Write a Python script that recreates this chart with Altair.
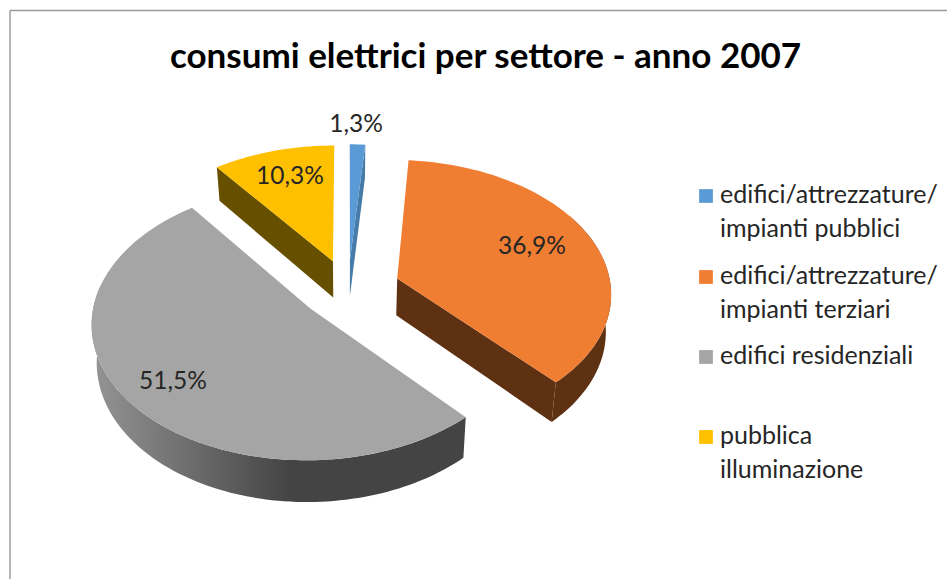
import math
import altair as alt

# Electricity consumption by sector, 2007 (percent)
sectors = ["edifici/attrezzature/\nimpianti pubblici", "edifici/attrezzature/\nimpianti terziari",
           "edifici residenziali", "pubblica\nilluminazione"]
shares = [1.3, 36.9, 51.5, 10.3]
top_colors = ["#5B9BD5", "#F07E32", "#A5A5A5", "#FFC000"]
wall_colors = ["#477BA8", "#5F3113", "#444444", "#665000"]
explode = [0.226, 0.245, 0.226, 0.226]   # how far each slice is pulled out

# Label anchor points for the percentages, in pixels
value_label_x = [356, 532, 173, 290]
value_label_y = [132, 254, 389, 184]

W, H = 947, 579
CX, CY = 348.0, 289.0        # pie centre on the page
RX, RY = 214.0, 132.5        # horizontal and vertical radius
PERSP = 0.10                 # perspective strength along the depth axis
DEPTH = 37.0                 # thickness of the pie
BASE_SHRINK = 0.98           # lower rim converges slightly


def project(x, y, lower=False):
    w = 1 + PERSP * y
    px = RX * x / w
    py = -RY * y / w
    if lower:
        return [CX + px * BASE_SHRINK, CY + py + DEPTH / w]
    return [CX + px, CY + py]


def slice_point(i, angle, r=1.0):
    b = bisects[i]
    return (r * math.sin(angle) + explode[i] * math.sin(b),
            r * math.cos(angle) + explode[i] * math.cos(b))


def feature(points, fill):
    ring = points + [points[0]]
    return {"type": "Feature", "properties": {"fill": fill},
            "geometry": {"type": "Polygon", "coordinates": [ring]}}


def arc_angles(a0, a1, step=math.radians(1.5)):
    n = max(2, int(abs(a1 - a0) / step) + 1)
    return [a0 + (a1 - a0) * i / n for i in range(n + 1)]


# Slice angles run clockwise from twelve o'clock
edges = [0.0]
for s in shares:
    edges.append(edges[-1] + s / 100 * 2 * math.pi)
spans = list(zip(edges[:-1], edges[1:]))
bisects = [(a + b) / 2 for a, b in spans]


def radial_wall(i, angle):
    tip, rim = slice_point(i, angle, 0.0), slice_point(i, angle)
    return feature([project(*tip), project(*rim), project(*rim, lower=True), project(*tip, lower=True)],
                   wall_colors[i])


def outer_wall(i, a0, a1, fill):
    pts = [slice_point(i, a) for a in arc_angles(a0, a1)]
    return feature([project(*p) for p in pts] + [project(*p, lower=True) for p in reversed(pts)], fill)


def top_face(i):
    a0, a1 = spans[i]
    pts = [project(*slice_point(i, a)) for a in arc_angles(a0, a1)]
    return feature([project(*slice_point(i, a0, 0.0))] + pts, top_colors[i])


# Walls visible from the viewpoint: the cut faces looking towards the viewer and the front rims
flat_walls = [
    radial_wall(3, spans[3][0]),
    radial_wall(0, spans[0][1]),
    radial_wall(1, spans[1][1]),
    outer_wall(1, math.radians(60), spans[1][1], wall_colors[1]),
]
gray_rim = [outer_wall(2, spans[2][0], math.radians(280), wall_colors[2])]
tops = [top_face(i) for i in range(4)]

projection = alt.Projection(type="identity", scale=1, translate=[0, 0])


def shapes(values, **mark):
    return alt.Chart(alt.Data(values=values)).mark_geoshape(strokeWidth=0, **mark).project(**projection.to_dict())


walls_layer = shapes(flat_walls).encode(fill=alt.Fill("properties.fill:N", scale=None))
rim_layer = shapes(gray_rim, fill=alt.Gradient(
    gradient="linear", x1=0, x2=1, y1=0, y2=0,
    stops=[alt.GradientStop(color="#959595", offset=0),
           alt.GradientStop(color="#444444", offset=0.53),
           alt.GradientStop(color="#444444", offset=1)]))
tops_layer = shapes(tops).encode(fill=alt.Fill("properties.fill:N", scale=None))

FONT = "Lato"
INK = "#262626"

value_rows = [{"x": x, "y": y, "t": f"{v:.1f}%".replace(".", ",")}
              for x, y, v in zip(value_label_x, value_label_y, shares)]
value_layer = alt.Chart(alt.Data(values=value_rows)).mark_text(
    font=FONT, fontSize=24.5, color=INK, align="center", baseline="alphabetic"
).encode(x=alt.X("x:Q", scale=None), y=alt.Y("y:Q", scale=None), text="t:N")

# Legend entries sit on an even vertical rhythm, with the swatch beside the first line
legend_y = [196, 277, 357, 437]
swatch_rows = [{"x": 706, "y": y, "c": c} for y, c in zip(legend_y, top_colors)]
swatch_layer = alt.Chart(alt.Data(values=swatch_rows)).mark_square(size=190, opacity=1).encode(
    x=alt.X("x:Q", scale=None), y=alt.Y("y:Q", scale=None), fill=alt.Fill("c:N", scale=None))

line_rows = []
for y, name in zip(legend_y, sectors):
    for k, line in enumerate(name.split("\n")):
        line_rows.append({"x": 720, "y": y + 7 + k * 33.5, "t": line})
legend_text = alt.Chart(alt.Data(values=line_rows)).mark_text(
    font=FONT, fontSize=25, color=INK, align="left", baseline="alphabetic"
).encode(x=alt.X("x:Q", scale=None), y=alt.Y("y:Q", scale=None), text="t:N")

frame_left = alt.Chart(alt.Data(values=[{"a": 0}])).mark_rule(color="#999999", strokeWidth=1.4).encode(
    x=alt.value(10), y=alt.value(10.5), y2=alt.value(H))
frame_top = alt.Chart(alt.Data(values=[{"a": 0}])).mark_rule(color="#999999", strokeWidth=1.4).encode(
    x=alt.value(10), x2=alt.value(W), y=alt.value(10.5))

chart = alt.layer(
    frame_left, frame_top, walls_layer, rim_layer, tops_layer, value_layer, swatch_layer, legend_text
).properties(
    width=W, height=H, padding=0, autosize=alt.AutoSizeParams(type="none"),
    title=alt.TitleParams("consumi elettrici per settore - anno 2007", font=FONT, fontSize=35, fontWeight="bold",
                          color="#000000", anchor="middle", dx=12, dy=79),
).configure_view(stroke=None)

chart.save("out.html", embed_options={"renderer": "svg", "actions": False})
